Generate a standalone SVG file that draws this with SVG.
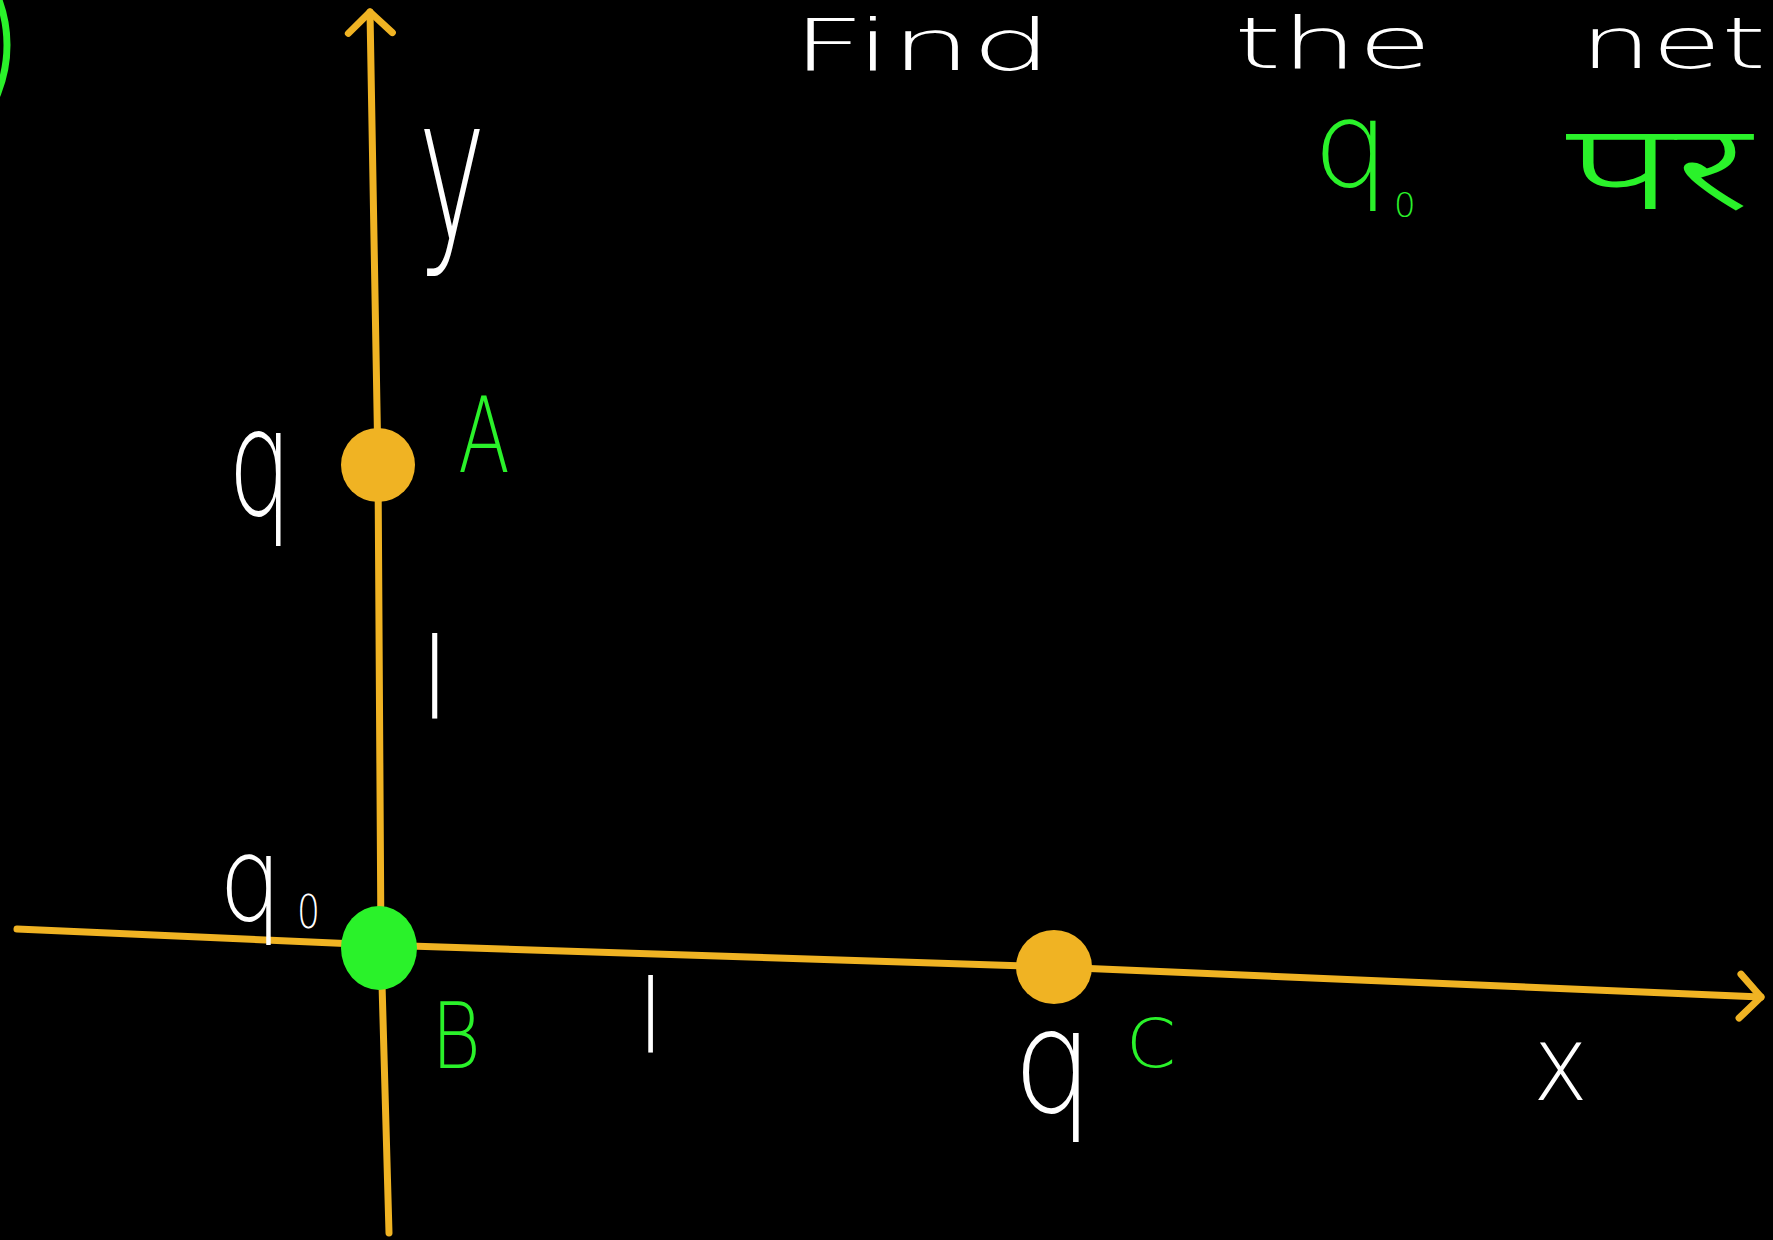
<svg xmlns="http://www.w3.org/2000/svg" width="1773" height="1240" viewBox="0 0 1773 1240">
  <style>
    .axis { fill: none; stroke: #F0B323; stroke-width: 7; stroke-linecap: round; stroke-linejoin: round; }
    .w { fill: #FFFFFF; font-family: "DejaVu Sans", "Liberation Sans", sans-serif; font-weight: 200; }
    .g { fill: #2AF22A; font-family: "DejaVu Sans", "Liberation Sans", sans-serif; font-weight: 200; }
    .dev { fill: #2AF22A; font-family: "Noto Sans Devanagari", "Lohit Devanagari", "Noto Sans", sans-serif; font-weight: 300; }
    .dotY { fill: #F0B323; }
    .dotG { fill: #2AF22A; }
  </style>
  <defs>
    <marker id="chev" markerUnits="userSpaceOnUse" viewBox="-26 -26 32 52" markerWidth="32" markerHeight="52" refX="0" refY="0" orient="auto" overflow="visible">
      <path d="M -21 -22 L 0 0 L -21 22" fill="none" stroke="#F0B323" stroke-width="7" stroke-linecap="round" stroke-linejoin="round"/>
    </marker>
  </defs>
  <rect x="0" y="0" width="1773" height="1240" fill="#000000"/>

  <!-- partial green circle at top-left edge -->
  <circle cx="-123" cy="45" r="130" fill="none" stroke="#2AF22A" stroke-width="7"/>

  <!-- title -->
  <g id="title">
    <text class="w" x="792" y="70" font-size="72" textLength="260" lengthAdjust="spacingAndGlyphs">Find</text>
    <text class="w" x="1234" y="68" font-size="72" textLength="198" lengthAdjust="spacingAndGlyphs">the</text>
    <text class="w" x="1580" y="68" font-size="72" textLength="186" lengthAdjust="spacingAndGlyphs">net</text>
    <text class="g" x="1313" y="186" font-size="120">q</text>
    <text class="g" x="1394" y="217" font-size="34">0</text>
    <text class="dev" x="1566" y="209" font-size="120" textLength="185" lengthAdjust="spacingAndGlyphs">पर</text>
  </g>

  <!-- axes (connectors) -->
  <g id="connectors">
    <polyline id="y-axis" class="axis" points="389,1233 381,948 378,465 370,12" marker-end="url(#chev)"/>
    <polyline id="x-axis" class="axis" points="17,929 379,945 1054,967 1761,997" marker-end="url(#chev)"/>
    <text class="w" x="418" y="238" font-size="200" textLength="68" lengthAdjust="spacingAndGlyphs">y</text>
    <text class="w" x="1533" y="1100" font-size="106" textLength="55" lengthAdjust="spacingAndGlyphs">x</text>
    <text class="w" x="435" y="718" font-size="112" text-anchor="middle">l</text>
    <text class="w" x="651" y="1052" font-size="102" text-anchor="middle">l</text>
  </g>

  <!-- charge A -->
  <g id="charge-A">
    <circle class="dotY" cx="378" cy="465" r="37"/>
    <text class="w" x="228" y="515" font-size="150" textLength="64" lengthAdjust="spacingAndGlyphs">q</text>
    <text class="g" x="458" y="472" font-size="105" textLength="52" lengthAdjust="spacingAndGlyphs">A</text>
  </g>

  <!-- charge B -->
  <g id="charge-B">
    <ellipse class="dotG" cx="379" cy="948" rx="38" ry="42"/>
    <text class="w" x="219" y="920" font-size="118" textLength="63" lengthAdjust="spacingAndGlyphs">q</text>
    <text class="w" x="297" y="928" font-size="46" textLength="23" lengthAdjust="spacingAndGlyphs">0</text>
    <text class="g" x="431" y="1068" font-size="90" textLength="50" lengthAdjust="spacingAndGlyphs">B</text>
  </g>

  <!-- charge C -->
  <g id="charge-C">
    <ellipse class="dotY" cx="1054" cy="967" rx="38" ry="37"/>
    <text class="w" x="1013" y="1112" font-size="145" textLength="80" lengthAdjust="spacingAndGlyphs">q</text>
    <text class="g" x="1126" y="1067" font-size="68" textLength="50" lengthAdjust="spacingAndGlyphs">C</text>
  </g>
</svg>
